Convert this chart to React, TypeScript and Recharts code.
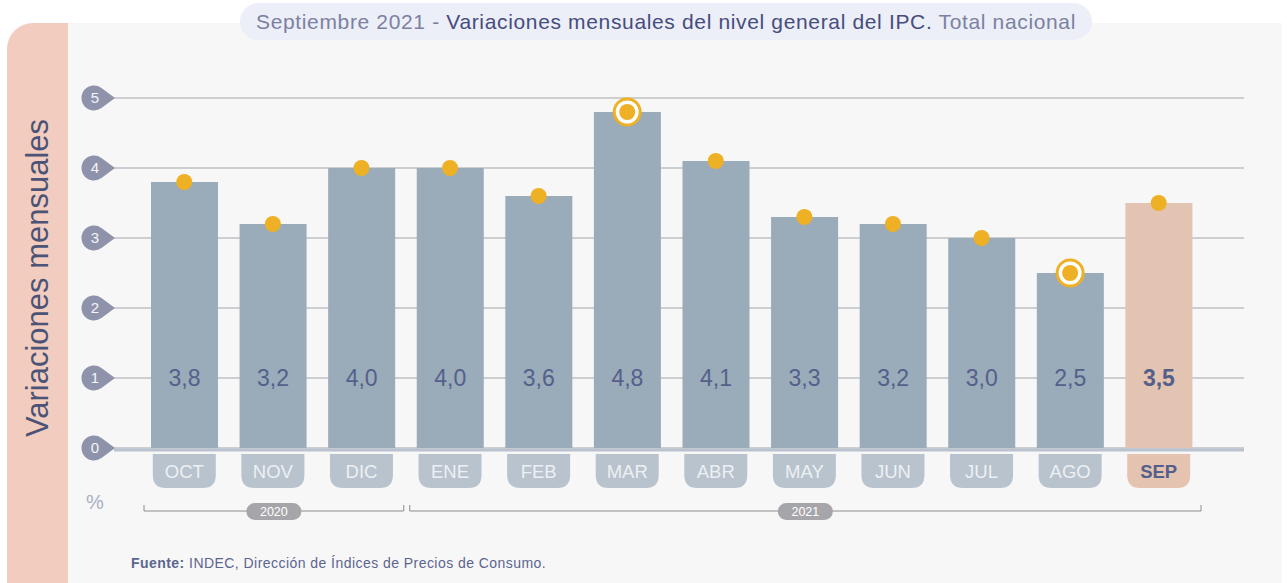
import React from 'react';
import { ComposedChart, Bar, Line, XAxis, YAxis, CartesianGrid, Cell, LabelList } from 'recharts';

const months = ['OCT', 'NOV', 'DIC', 'ENE', 'FEB', 'MAR', 'ABR', 'MAY', 'JUN', 'JUL', 'AGO', 'SEP'];
const years = ['2020', '2020', '2020', '2021', '2021', '2021', '2021', '2021', '2021', '2021', '2021', '2021'];
const values = [3.8, 3.2, 4.0, 4.0, 3.6, 4.8, 4.1, 3.3, 3.2, 3.0, 2.5, 3.5];
const yTicks = [0, 1, 2, 3, 4, 5];
const yearGroups = ['2020', '2021'];
const currentMonth = 'SEP';

const data = months.map((m, i) => ({ month: m, value: values[i], year: years[i] }));
const maxV = Math.max(...values);
const minV = Math.min(...values);

const W = 1287;
const H = 583;
const PLOT_LEFT = 114;
const PLOT_RIGHT = 1244;
const PAD_L = 26;
const PAD_R = 41;
const FONT = '"Liberation Sans", Arial, Helvetica, sans-serif';

const fmt = (v: number) => v.toFixed(1).replace('.', ',');

const YTick = (props: any) => {
  const { x, y, payload } = props;
  const tip = x + 1;
  const cx = tip - 21;
  const r = 12.5;
  const d = tip - cx;
  const th = Math.acos(r / d);
  const px = cx + r * Math.cos(th);
  const py = r * Math.sin(th);
  return (
    <g>
      <path d={`M ${tip} ${y} L ${px} ${y - py} A ${r} ${r} 0 1 0 ${px} ${y + py} Z`} fill="#8e93ab" />
      <text x={cx + 1} y={y} dy={5} textAnchor="middle" fill="#f4f5f9" fontSize={15} fontFamily={FONT}>
        {payload.value}
      </text>
    </g>
  );
};

const XTick = (props: any) => {
  const { x, y, payload } = props;
  const cur = payload.value === currentMonth;
  const w = 63;
  const top = y + 6;
  const h = 34;
  const rr = 13;
  const l = x - w / 2;
  const rgt = x + w / 2;
  const path = `M ${l} ${top} L ${rgt} ${top} L ${rgt} ${top + h - rr} Q ${rgt} ${top + h} ${rgt - rr} ${top + h} L ${l + rr} ${top + h} Q ${l} ${top + h} ${l} ${top + h - rr} Z`;
  return (
    <g>
      <path d={path} fill={cur ? '#e4c3b1' : '#b8c3cd'} />
      <text
        x={x}
        y={top + h / 2}
        dy={6.5}
        textAnchor="middle"
        fill={cur ? '#54608a' : '#edf0f3'}
        fontWeight={cur ? 'bold' : 'normal'}
        fontSize={18.5}
        fontFamily={FONT}
      >
        {payload.value}
      </text>
    </g>
  );
};

const ValueLabel = (props: any) => {
  const { x, y, width, height, value, index } = props;
  const cur = months[index] === currentMonth;
  const unit = height / value;
  return (
    <text
      x={x + width / 2}
      y={y + height - unit}
      dy={8}
      textAnchor="middle"
      fill="#54608a"
      fontWeight={cur ? 'bold' : 'normal'}
      fontSize={23}
      fontFamily={FONT}
    >
      {fmt(value)}
    </text>
  );
};

const Dot = (props: any) => {
  const { cx, cy, payload } = props;
  const hl = payload.value === maxV || payload.value === minV;
  return (
    <g key={`d-${payload.month}`}>
      {hl && <circle cx={cx} cy={cy} r={13} fill="#ffffff" stroke="#eeb025" strokeWidth={3} />}
      <circle cx={cx} cy={cy} r={8} fill="#eeb025" />
    </g>
  );
};

export default function App() {
  const band = (PLOT_RIGHT - PLOT_LEFT - PAD_L - PAD_R) / months.length;
  const start0 = PLOT_LEFT + PAD_L;
  const groups = yearGroups.map((yr) => {
    const first = years.indexOf(yr);
    const last = years.lastIndexOf(yr);
    return { yr, x1: start0 + first * band + 4, x2: start0 + (last + 1) * band - 2 };
  });
  return (
    <div style={{ position: 'absolute', left: 0, top: 0, width: W, height: H, background: '#ffffff', overflow: 'hidden' }}>
      <div style={{ position: 'absolute', left: 68, top: 23, width: 1214, height: H - 23, background: '#f7f7f7' }} />
      <div
        style={{
          position: 'absolute',
          left: 7,
          top: 23,
          width: 61,
          height: H - 23,
          background: '#f2cdbf',
          borderTopLeftRadius: 26,
        }}
      />
      <div
        style={{
          position: 'absolute',
          left: 38,
          top: 278,
          transform: 'translate(-50%, -50%) rotate(-90deg)',
          whiteSpace: 'nowrap',
          fontFamily: FONT,
          fontSize: 31,
          color: '#4b5377',
        }}
      >
        Variaciones mensuales
      </div>
      <div
        style={{
          position: 'absolute',
          left: 240,
          top: 3,
          width: 852,
          height: 37,
          borderRadius: 19,
          background: '#eceef8',
          display: 'flex',
          alignItems: 'center',
          justifyContent: 'center',
          fontFamily: FONT,
          fontSize: 21,
          letterSpacing: 0.65,
          color: '#7c81a2',
          whiteSpace: 'pre',
        }}
      >
        Septiembre 2021 - <span style={{ color: '#464d7d' }}>Variaciones mensuales del nivel general del IPC.</span> Total nacional
      </div>
      <div style={{ position: 'absolute', left: 0, top: 0 }}>
        <ComposedChart
          width={W}
          height={H}
          data={data}
          margin={{ top: 98, right: W - PLOT_RIGHT, bottom: 75, left: 0 }}
        >
          <CartesianGrid vertical={false} stroke="#a3a5aa" strokeWidth={1} />
          <YAxis
            domain={[0, 5]}
            ticks={yTicks}
            width={PLOT_LEFT}
            axisLine={false}
            tickLine={false}
            tickSize={0}
            tickMargin={0}
            tick={<YTick />}
            interval={0}
          />
          <XAxis
            dataKey="month"
            padding={{ left: PAD_L, right: PAD_R }}
            height={60}
            axisLine={{ stroke: '#bac3cf', strokeWidth: 3, transform: 'translate(0,2)' }}
            tickLine={false}
            tickSize={0}
            tickMargin={0}
            tick={<XTick />}
            interval={0}
          />
          <Bar dataKey="value" barSize={67} isAnimationActive={false}>
            {data.map((d) => (
              <Cell key={d.month} fill={d.month === currentMonth ? '#e3c3b1' : '#9aabba'} />
            ))}
            <LabelList dataKey="value" content={<ValueLabel />} />
          </Bar>
          <Line
            dataKey="value"
            stroke="none"
            strokeWidth={0}
            dot={<Dot />}
            activeDot={false}
            isAnimationActive={false}
          />
        </ComposedChart>
      </div>
      <svg style={{ position: 'absolute', left: 0, top: 0 }} width={W} height={H}>
        {groups.map((g) => (
          <g key={g.yr}>
            <path d={`M ${g.x1} 505 L ${g.x1} 511 L ${g.x2} 511 L ${g.x2} 505`} fill="none" stroke="#8c8c8c" strokeWidth={1} />
            <rect x={(g.x1 + g.x2) / 2 - 27.5} y={503} width={55} height={17} rx={8.5} fill="#a6a6aa" />
            <text x={(g.x1 + g.x2) / 2} y={516} textAnchor="middle" fill="#ffffff" fontSize={12.5} fontFamily={FONT}>
              {g.yr}
            </text>
          </g>
        ))}
        <text x={95} y={509} textAnchor="middle" fill="#a7afc3" fontSize={20} fontFamily={FONT}>
          %
        </text>
      </svg>
      <div
        style={{
          position: 'absolute',
          left: 131,
          top: 555,
          fontFamily: FONT,
          fontSize: 14,
          letterSpacing: 0.45,
          color: '#5b658e',
          whiteSpace: 'nowrap',
        }}
      >
        <b>Fuente:</b> INDEC, Dirección de Índices de Precios de Consumo.
      </div>
    </div>
  );
}
